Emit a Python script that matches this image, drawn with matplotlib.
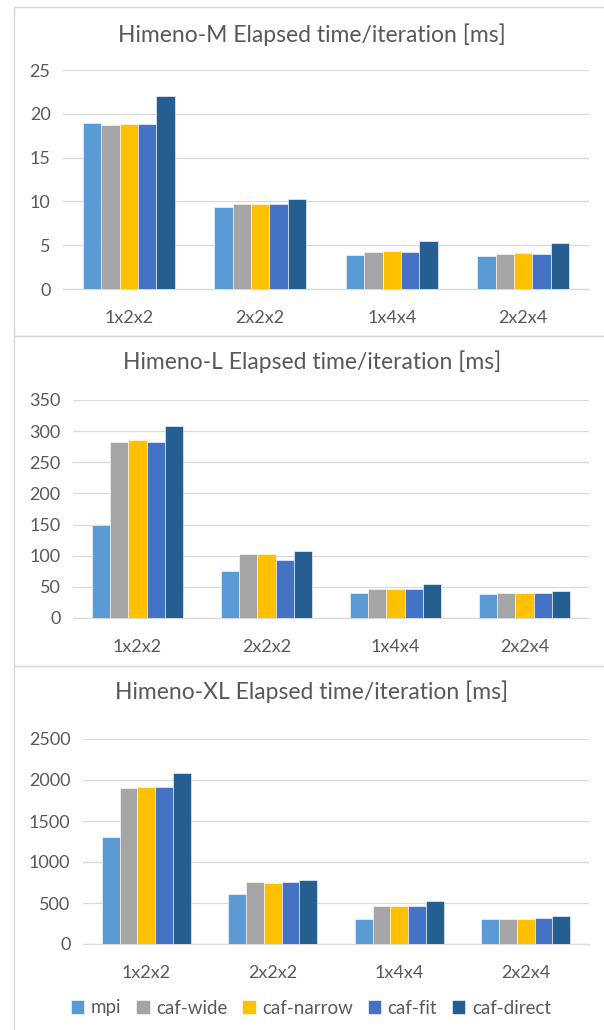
import matplotlib
matplotlib.use("Agg")
import matplotlib.pyplot as plt
import numpy as np
from matplotlib.patches import Rectangle

plt.rcParams['font.family'] = ['Lato', 'DejaVu Sans']

categories = ['1x2x2', '2x2x2', '1x4x4', '2x2x4']
series = ['mpi', 'caf-wide', 'caf-narrow', 'caf-fit', 'caf-direct']
colors = ['#5B9BD5', '#A5A5A5', '#FFC000', '#4472C4', '#255E91']

# values per series, one entry per category
m_vals = [
    [19.0, 9.4, 3.85, 3.8],
    [18.7, 9.7, 4.2, 4.0],
    [18.8, 9.75, 4.3, 4.1],
    [18.8, 9.75, 4.2, 4.0],
    [22.0, 10.3, 5.5, 5.2],
]
l_vals = [
    [150, 76, 40, 38],
    [283, 102, 47, 40],
    [285, 102, 47, 40],
    [283, 93, 47, 40],
    [308, 107, 54, 44],
]
xl_vals = [
    [1300, 610, 300, 305],
    [1900, 760, 465, 310],
    [1910, 740, 465, 310],
    [1910, 760, 465, 315],
    [2085, 780, 520, 345],
]

W, H = 604, 1030
fig = plt.figure(figsize=(W / 100, H / 100), dpi=100)
text_col = '#595959'
grid_col = '#D9D9D9'


def px_axes(left, top, right, bottom):
    return fig.add_axes([left / W, 1 - bottom / H, (right - left) / W, (bottom - top) / H])


def panel_border(top, bottom):
    fig.patches.append(Rectangle((13.5 / W, 1 - bottom / H), (W + 10) / W, (bottom - top) / H,
                                 transform=fig.transFigure, fill=False,
                                 edgecolor=grid_col, linewidth=1.0))


def draw(ax, data, title, ymax, step, title_y):
    x = np.arange(len(categories))
    bw = 0.14
    for i, (name, vals) in enumerate(zip(series, data)):
        ax.bar(x + (i - 2) * bw, vals, bw, color=colors[i], label=name,
               edgecolor='white', linewidth=0.4, zorder=3)
    ax.set_xlim(-0.5, len(categories) - 0.5)
    ax.set_ylim(0, ymax)
    ax.set_yticks(np.arange(0, ymax + step / 2, step))
    ax.set_xticks(x)
    ax.set_xticklabels(categories)
    ax.yaxis.grid(True, color=grid_col, linewidth=0.9, zorder=0)
    ax.set_axisbelow(True)
    for s in ['top', 'right', 'left']:
        ax.spines[s].set_visible(False)
    ax.spines['bottom'].set_color(grid_col)
    ax.spines['bottom'].set_linewidth(0.9)
    ax.tick_params(length=0, colors=text_col, labelsize=13)
    ax.tick_params(axis='x', pad=15)
    ax.tick_params(axis='y', pad=9)
    fig.text(0.5 + 10 / W, 1 - title_y / H, title, ha='center', va='center',
             fontsize=16.5, color=text_col)


panel_border(7.5, 336.5)
panel_border(336.5, 665.5)
panel_border(665.5, 1040)

ax1 = px_axes(63, 70, 589, 289)
draw(ax1, m_vals, 'Himeno-M Elapsed time/iteration [ms]', 25, 5, 35)
ax2 = px_axes(73, 400, 589, 618)
draw(ax2, l_vals, 'Himeno-L Elapsed time/iteration [ms]', 350, 50, 362)
ax3 = px_axes(83, 739, 589, 944)
draw(ax3, xl_vals, 'Himeno-XL Elapsed time/iteration [ms]', 2500, 500, 692)

handles, labels = ax3.get_legend_handles_labels()
fig.legend(handles, labels, loc='center', bbox_to_anchor=(0.515, 1 - 1008 / H),
           ncol=5, frameon=False, fontsize=13.5, handlelength=0.7, handleheight=0.7,
           handletextpad=0.35, columnspacing=0.8, labelcolor=text_col)

fig.savefig('out.png', dpi=100)
